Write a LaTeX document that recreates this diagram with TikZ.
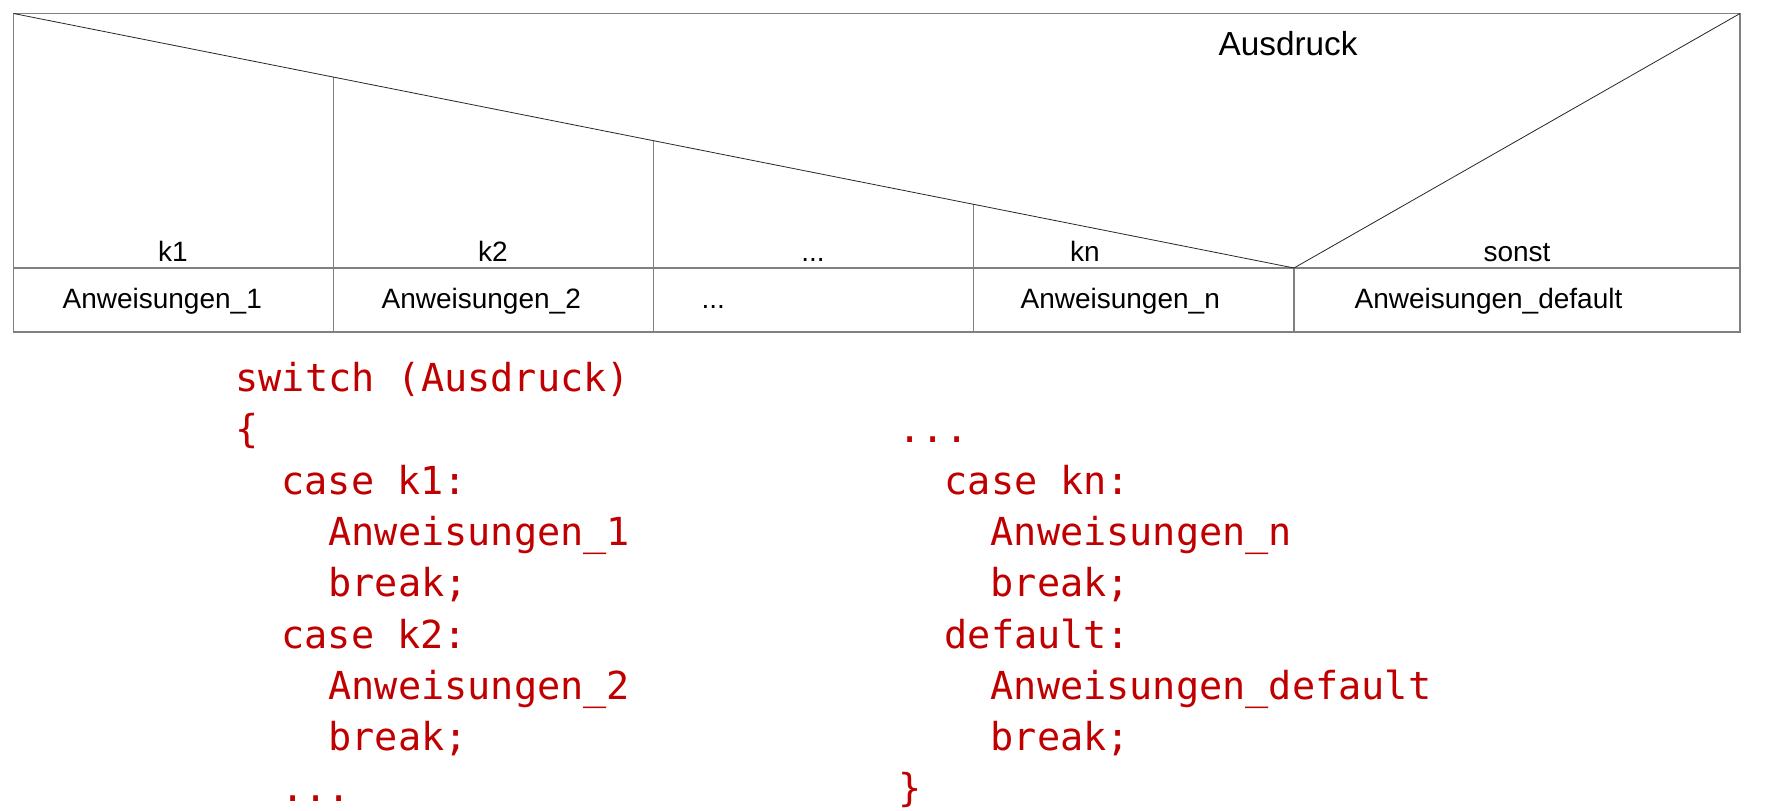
\documentclass[tikz,border=0pt]{standalone}
\usepackage{fontspec}
\setmainfont{Liberation Sans}
\newfontfamily\codefont{DejaVu Sans Mono}
\usetikzlibrary{calc}
\definecolor{codeRed}{HTML}{C00000}
\definecolor{lineGray}{HTML}{808080}

\begin{document}
\begin{tikzpicture}[x=0.75pt, y=-0.75pt, line width=0.9pt]

  \tikzstyle{G}=[draw=lineGray]
  \tikzstyle{D}=[draw=black!85, line width=0.6pt]
  \tikzstyle{L}=[font=\fontsize{21}{25}\selectfont, anchor=base, inner sep=0pt]
  \tikzstyle{A}=[font=\fontsize{21}{25}\selectfont, anchor=base west, inner sep=0pt]
  \tikzstyle{K}=[font=\codefont\fontsize{28.9}{34}\selectfont, text=codeRed, anchor=base west, inner sep=0pt]

  \useasboundingbox (0,0) rectangle (1772,810);

  % struktogramm
  \coordinate (tl) at (13.5,13.5);
  \coordinate (br) at (1740,332);
  \coordinate (tr) at (br |- tl);
  \coordinate (bl) at (tl |- br);
  \coordinate (apex) at (1294,268);

  \draw [G] (tl) rectangle (br);
  \draw [G] (tl |- apex) -- (tr |- apex);
  \draw [G] (apex) -- (apex |- br);
  \foreach \f in {0.25,0.5,0.75} {
    \coordinate (top) at ($(tl)!\f!(apex)$);
    \draw [G] (top) -- (top |- br);
  }
  \draw [D] (tl) -- (apex) -- (tr);

  \node[A, font=\fontsize{25}{30}\selectfont] at (1218,55) (ausdruck) {Ausdruck};

  \node[L] at (173,261) (k1) {k1};
  \node[L] at (493,261) (k2) {k2};
  \node[L] at (813,261) (kdots) {...};
  \node[L] at (1085,261) (kn) {kn};
  \node[L] at (1517,261) (sonst) {sonst};

  \node[A] at (62,308) (anw1) {Anweisungen\_1};
  \node[A] at (381,308) (anw2) {Anweisungen\_2};
  \node[A] at (701,308) (anwdots) {...};
  \node[A] at (1020,308) (anwn) {Anweisungen\_n};
  \node[A] at (1354,308) (anwdef) {Anweisungen\_default};

  % code links
  \node[K] at (235,391.5) (sw) {switch (Ausdruck)};
  \node[K] at (235,442.8) (lbrace) {\{};
  \node[K] at (281,494.1) (casea) {case k1:};
  \node[K] at (328,545.4) (anwa) {Anweisungen\_1};
  \node[K] at (328,596.7) (brka) {break;};
  \node[K] at (281,648) (caseb) {case k2:};
  \node[K] at (328,699.3) (anwb) {Anweisungen\_2};
  \node[K] at (328,750.6) (brkb) {break;};
  \node[K] at (281,801.9) (dotsl) {...};

  % code rechts
  \node[K] at (898,442.8) (dotsr) {...};
  \node[K] at (944,494.1) (casen) {case kn:};
  \node[K] at (990,545.4) (anwc) {Anweisungen\_n};
  \node[K] at (990,596.7) (brkc) {break;};
  \node[K] at (944,648) (dflt) {default:};
  \node[K] at (990,699.3) (anwd) {Anweisungen\_default};
  \node[K] at (990,750.6) (brkd) {break;};
  \node[K] at (898,801.9) (rbrace) {\}};

\end{tikzpicture}
\end{document}
